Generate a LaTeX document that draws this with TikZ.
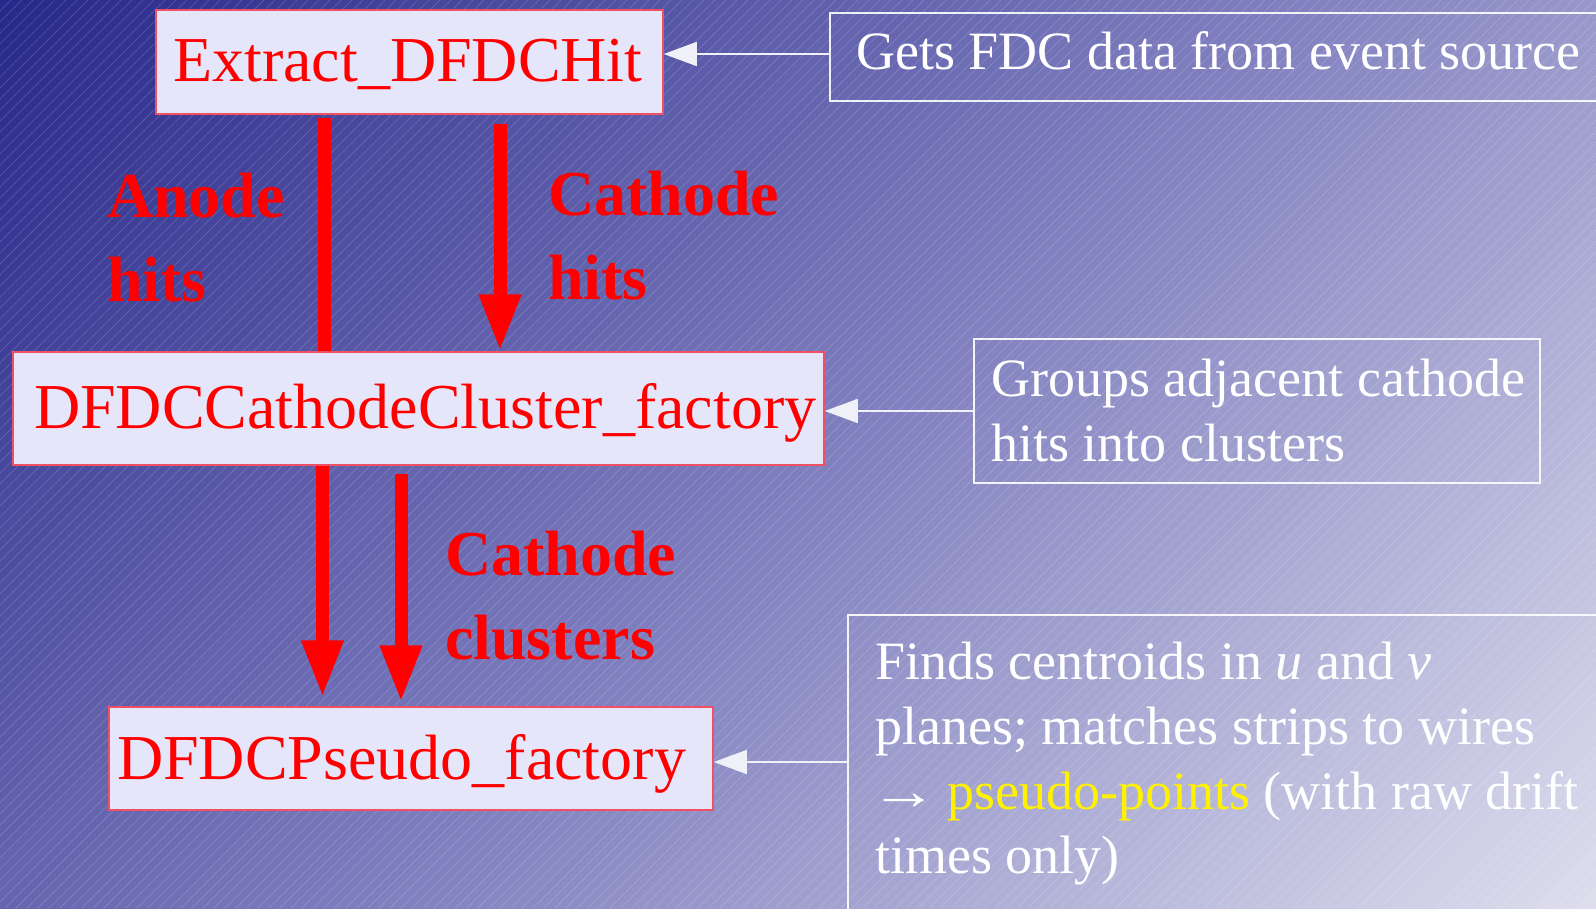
\documentclass[tikz,border=0pt]{standalone}
\usepackage{fontspec}
\setmainfont{Liberation Serif}
\usetikzlibrary{arrows.meta,calc}
\definecolor{boxfill}{HTML}{E6E6FA}
\definecolor{boxline}{RGB}{240,80,100}
\definecolor{wline}{RGB}{240,240,248}
\begin{document}
\begin{tikzpicture}[x=1pt,y=-1pt,
  redbox/.style={draw=boxline,fill=boxfill,line width=1.5pt,inner sep=0pt},
  whitebox/.style={draw=white,draw opacity=0.9,line width=1.5pt,inner sep=0pt},
  redtext/.style={text=red,inner sep=0pt,font=\fontsize{64}{77}\selectfont},
  labeltext/.style={text=red,inner sep=0pt,align=left,font=\fontsize{64}{84}\selectfont\bfseries},
  whitetext/.style={text=white,inner sep=0pt,align=left,font=\fontsize{54}{64.7}\selectfont},
  bigarrow/.style={draw=red,line width=13pt,-{Triangle[length=57pt,width=39pt]}},
  bigline/.style={draw=red,line width=13pt},
  thinarrow/.style={draw=wline,line width=1.5pt,-{Triangle[length=33pt,width=24pt]}}
]
\useasboundingbox (0,0) rectangle (1596,908);
\clip (0,0) rectangle (1596,908);
% background gradient
\foreach \i in {0,...,124} {
  \pgfmathsetmacro\t{(\i+0.5)/125}
  \pgfmathtruncatemacro\R{\t<0.5 ? 40+170*\t : 125+194*(\t-0.5)}
  \pgfmathtruncatemacro\B{\t<0.5 ? 138+104*\t : 190+96*(\t-0.5)}
  \definecolor{bgc}{RGB}{\R,\R,\B}
  \fill[bgc] ({\i*20.032-1},0) -- ({\i*20.032+21},0) -- (0,{\i*20.032+21}) -- (0,{\i*20.032-1}) -- cycle;
}
% hatching
\foreach \a in {0,11,...,2504} {
  \draw[white,opacity=0.2,line width=0.6pt] (\a,0) -- (\a-908,908);
}
% red boxes
\node[redbox,minimum width=507pt,minimum height=104pt] (ext) at (409.5,62) {};
\node[redbox,minimum width=811pt,minimum height=113pt] (cc) at (418.5,408.5) {};
\node[redbox,minimum width=604pt,minimum height=103pt] (ps) at (411,758.5) {};
\node[redtext,anchor=base west] (exttext) at (173,81) {Extract\_DFDCHit};
\node[redtext,anchor=base west] (cctext) at (34,428) {DFDCCathodeCluster\_factory};
\node[redtext,anchor=base west] (pstext) at (117,779) {DFDCPseudo\_factory};
% white boxes
\node[whitebox,minimum width=790pt,minimum height=88pt] (gets) at (1225,57) {};
\node[whitebox,minimum width=566pt,minimum height=144pt] (groups) at (1257,411) {};
\node[whitebox,minimum width=772pt,minimum height=315pt] (finds) at (1234,772.5) {};
\node[whitetext,anchor=base west] (getstext) at (856,69) {Gets FDC data from event source};
\node[whitetext,anchor=north west] (groupstext) at (991,359) {Groups adjacent cathode\\hits into clusters};
\node[whitetext,anchor=north west] (findstext) at (875,642) {Finds centroids in \textit{u} and \textit{v}\\planes; matches strips to wires\\\kern-5pt\scalebox{1.25}[1]{→}\kern-4pt{} \textcolor{yellow}{pseudo-points} (with raw drift\\times only)};
% labels
\node[labeltext,anchor=north west] (anodelab) at (107,173) {Anode\\hits};
\node[labeltext,anchor=north west] (cathlab) at (548,171) {Cathode\\hits};
\node[labeltext,anchor=north west] (clustlab) at (445,531) {Cathode\\clusters};
% thick red connectors
\draw[bigline] ($(ext.south)+(-85.5,3)$) -- ($(cc.north)+(-94.5,0)$);
\draw[bigarrow] ($(ext.south)+(90.5,9)$) -- ($(cc.north)+(81.5,0)$);
\draw[bigarrow] ($(cc.south)+(-96,0)$) -- ($(ps.north)+(-88.5,-9)$);
\draw[bigarrow] ($(cc.south)+(-17.5,8)$) -- ($(ps.north)+(-10,-4)$);
% thin white connectors
\coordinate (g1) at ($(gets.west)+(0,-3)$);
\draw[thinarrow] (g1) -- (ext.east |- g1);
\draw[thinarrow] (groups.west) -- (cc.east |- groups.west);
\coordinate (f1) at ($(finds.west)+(0,-10.5)$);
\draw[thinarrow] (f1) -- (ps.east |- f1);
\end{tikzpicture}
\end{document}
